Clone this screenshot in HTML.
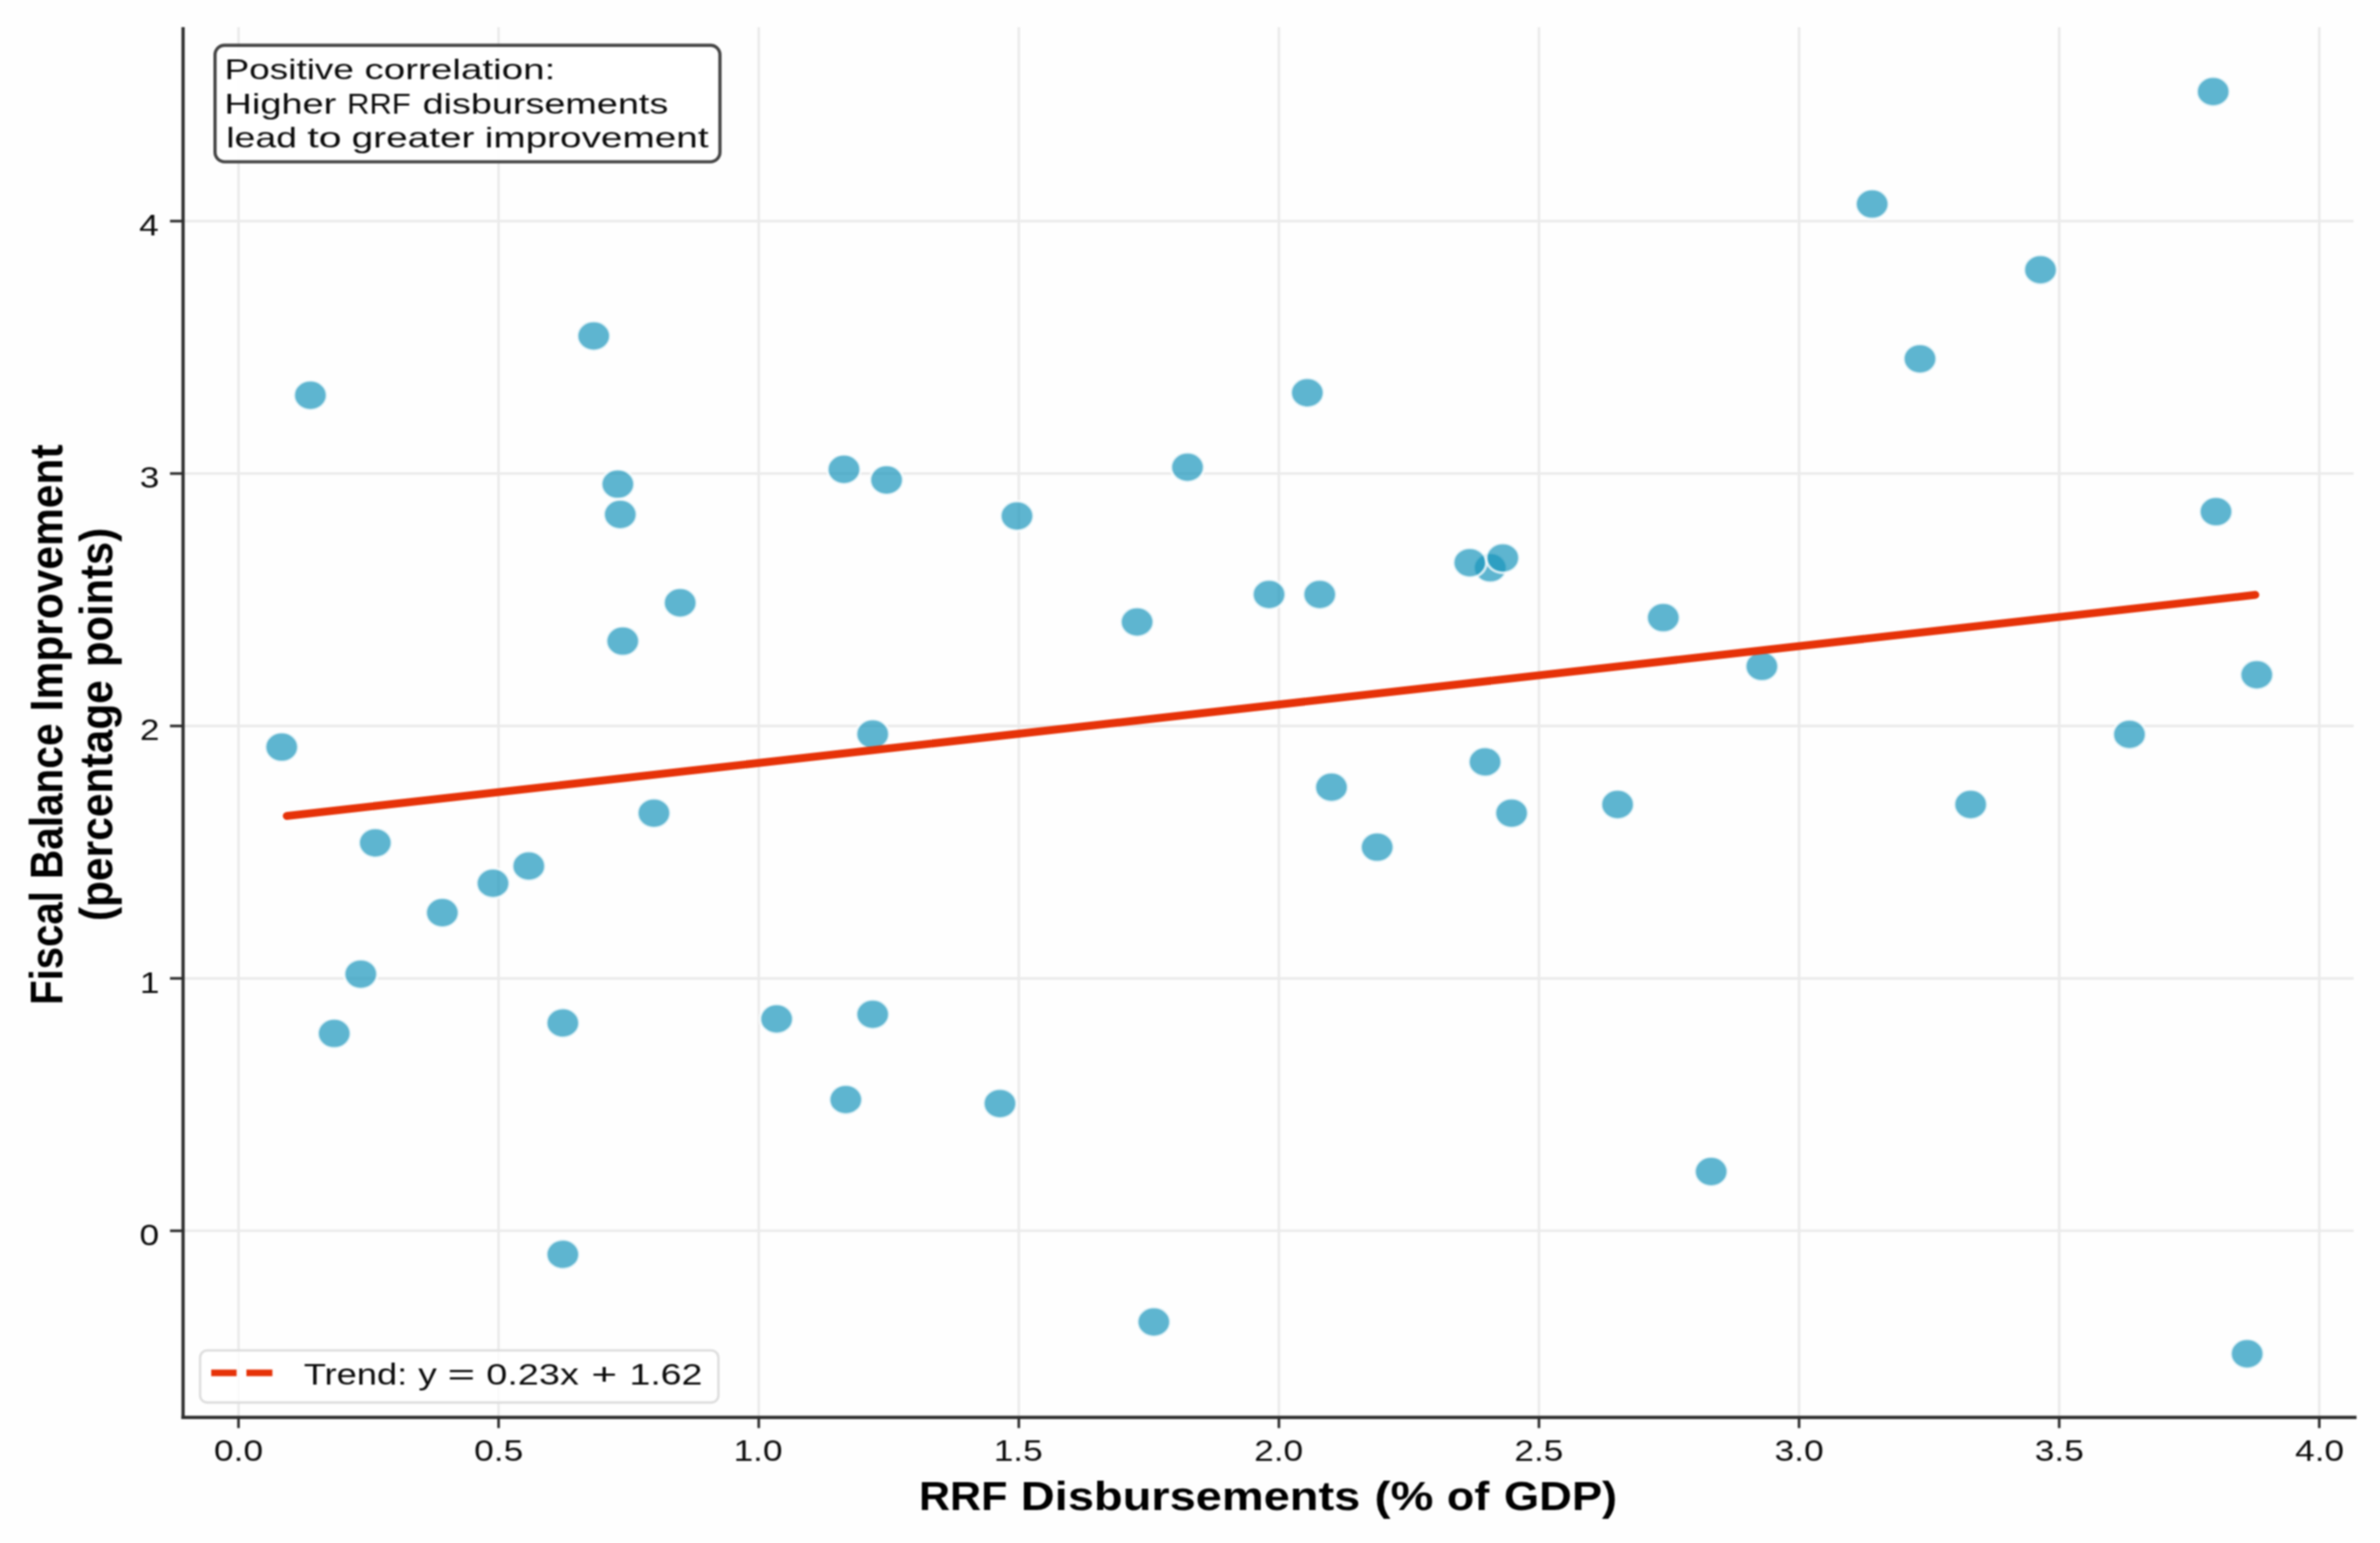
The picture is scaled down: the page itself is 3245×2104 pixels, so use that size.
<!DOCTYPE html>
<html><head><meta charset="utf-8"><title>RRF Disbursements vs Fiscal Balance Improvement</title>
<style>
html,body{margin:0;padding:0;background:#fefefe;}
body{width:3245px;height:2104px;overflow:hidden;}
svg{display:block;font-family:"Liberation Sans",sans-serif;}
</style></head>
<body>
<svg width="3245" height="2104" viewBox="0 0 3245 2104">
<defs><filter id="soft" x="-30" y="-30" width="3305" height="2164" filterUnits="userSpaceOnUse" color-interpolation-filters="sRGB"><feGaussianBlur stdDeviation="0.95"/></filter></defs>
<g filter="url(#soft)">
<rect x="-30" y="-30" width="3305" height="2164" fill="#fefefe"/>
<g stroke="#ebebeb" stroke-width="3.6"><line x1="325.2" y1="37.0" x2="325.2" y2="1932.8"/><line x1="679.8" y1="37.0" x2="679.8" y2="1932.8"/><line x1="1034.5" y1="37.0" x2="1034.5" y2="1932.8"/><line x1="1389.1" y1="37.0" x2="1389.1" y2="1932.8"/><line x1="1743.7" y1="37.0" x2="1743.7" y2="1932.8"/><line x1="2098.3" y1="37.0" x2="2098.3" y2="1932.8"/><line x1="2452.9" y1="37.0" x2="2452.9" y2="1932.8"/><line x1="2807.6" y1="37.0" x2="2807.6" y2="1932.8"/><line x1="3162.2" y1="37.0" x2="3162.2" y2="1932.8"/><line x1="249.6" y1="1678.3" x2="3209.0" y2="1678.3"/><line x1="249.6" y1="1334.1" x2="3209.0" y2="1334.1"/><line x1="249.6" y1="989.9" x2="3209.0" y2="989.9"/><line x1="249.6" y1="645.7" x2="3209.0" y2="645.7"/><line x1="249.6" y1="301.5" x2="3209.0" y2="301.5"/></g>
<g fill="#1a95bc" fill-opacity="0.7" stroke="#ffffff" stroke-opacity="0.75" stroke-width="3.8"><ellipse cx="423.2" cy="539.0" rx="22.6" ry="20.3"/><ellipse cx="809.5" cy="458.1" rx="22.6" ry="20.3"/><ellipse cx="842.4" cy="660.2" rx="22.6" ry="20.3"/><ellipse cx="1150.7" cy="640.0" rx="22.6" ry="20.3"/><ellipse cx="1208.8" cy="654.5" rx="22.6" ry="20.3"/><ellipse cx="1782.5" cy="535.6" rx="22.6" ry="20.3"/><ellipse cx="1619.1" cy="637.1" rx="22.6" ry="20.3"/><ellipse cx="3017.6" cy="124.9" rx="22.6" ry="20.3"/><ellipse cx="2552.6" cy="278.2" rx="22.6" ry="20.3"/><ellipse cx="2782.1" cy="367.9" rx="22.6" ry="20.3"/><ellipse cx="2617.8" cy="489.3" rx="22.6" ry="20.3"/><ellipse cx="845.7" cy="701.5" rx="22.6" ry="20.3"/><ellipse cx="927.4" cy="822.0" rx="22.6" ry="20.3"/><ellipse cx="849.1" cy="874.2" rx="22.6" ry="20.3"/><ellipse cx="384.1" cy="1018.7" rx="22.6" ry="20.3"/><ellipse cx="1189.9" cy="1001.0" rx="22.6" ry="20.3"/><ellipse cx="891.6" cy="1108.8" rx="22.6" ry="20.3"/><ellipse cx="511.7" cy="1149.3" rx="22.6" ry="20.3"/><ellipse cx="721.0" cy="1180.9" rx="22.6" ry="20.3"/><ellipse cx="672.2" cy="1204.4" rx="22.6" ry="20.3"/><ellipse cx="603.1" cy="1244.5" rx="22.6" ry="20.3"/><ellipse cx="1386.6" cy="703.6" rx="22.6" ry="20.3"/><ellipse cx="1550.4" cy="848.1" rx="22.6" ry="20.3"/><ellipse cx="1730.3" cy="810.6" rx="22.6" ry="20.3"/><ellipse cx="1799.4" cy="810.6" rx="22.6" ry="20.3"/><ellipse cx="2031.9" cy="774.2" rx="22.6" ry="20.3"/><ellipse cx="2004.0" cy="767.3" rx="22.6" ry="20.3"/><ellipse cx="2049.0" cy="760.8" rx="22.6" ry="20.3"/><ellipse cx="2024.8" cy="1038.9" rx="22.6" ry="20.3"/><ellipse cx="1815.4" cy="1073.4" rx="22.6" ry="20.3"/><ellipse cx="2061.0" cy="1108.8" rx="22.6" ry="20.3"/><ellipse cx="1877.7" cy="1155.2" rx="22.6" ry="20.3"/><ellipse cx="2205.5" cy="1097.0" rx="22.6" ry="20.3"/><ellipse cx="2267.8" cy="842.2" rx="22.6" ry="20.3"/><ellipse cx="2402.2" cy="908.7" rx="22.6" ry="20.3"/><ellipse cx="3021.4" cy="697.7" rx="22.6" ry="20.3"/><ellipse cx="3077.0" cy="920.1" rx="22.6" ry="20.3"/><ellipse cx="2903.4" cy="1001.4" rx="22.6" ry="20.3"/><ellipse cx="2686.9" cy="1097.0" rx="22.6" ry="20.3"/><ellipse cx="491.9" cy="1328.3" rx="22.6" ry="20.3"/><ellipse cx="455.7" cy="1409.2" rx="22.6" ry="20.3"/><ellipse cx="767.4" cy="1394.9" rx="22.6" ry="20.3"/><ellipse cx="1058.9" cy="1389.4" rx="22.6" ry="20.3"/><ellipse cx="1189.9" cy="1383.1" rx="22.6" ry="20.3"/><ellipse cx="1153.2" cy="1499.4" rx="22.6" ry="20.3"/><ellipse cx="767.4" cy="1710.4" rx="22.6" ry="20.3"/><ellipse cx="1363.4" cy="1504.8" rx="22.6" ry="20.3"/><ellipse cx="1573.2" cy="1802.6" rx="22.6" ry="20.3"/><ellipse cx="2333.1" cy="1597.5" rx="22.6" ry="20.3"/><ellipse cx="3063.9" cy="1846.0" rx="22.6" ry="20.3"/></g>
<line x1="391" y1="1112.6" x2="3075" y2="811.2" stroke="#e63208" stroke-width="10.8" stroke-linecap="round"/>
<g stroke="#2d2d2d" stroke-width="4.4"><line x1="249.6" y1="37.0" x2="249.6" y2="1935.0"/><line x1="247.4" y1="1932.8" x2="3213.0" y2="1932.8"/></g>
<g stroke="#2d2d2d" stroke-width="3.6"><line x1="325.2" y1="1932.8" x2="325.2" y2="1947.3"/><line x1="679.8" y1="1932.8" x2="679.8" y2="1947.3"/><line x1="1034.5" y1="1932.8" x2="1034.5" y2="1947.3"/><line x1="1389.1" y1="1932.8" x2="1389.1" y2="1947.3"/><line x1="1743.7" y1="1932.8" x2="1743.7" y2="1947.3"/><line x1="2098.3" y1="1932.8" x2="2098.3" y2="1947.3"/><line x1="2452.9" y1="1932.8" x2="2452.9" y2="1947.3"/><line x1="2807.6" y1="1932.8" x2="2807.6" y2="1947.3"/><line x1="3162.2" y1="1932.8" x2="3162.2" y2="1947.3"/><line x1="231.8" y1="1678.3" x2="249.6" y2="1678.3"/><line x1="231.8" y1="1334.1" x2="249.6" y2="1334.1"/><line x1="231.8" y1="989.9" x2="249.6" y2="989.9"/><line x1="231.8" y1="645.7" x2="249.6" y2="645.7"/><line x1="231.8" y1="301.5" x2="249.6" y2="301.5"/></g>
<rect x="293.2" y="61.7" width="688.4" height="158.9" rx="13" ry="13" fill="#ffffff" fill-opacity="0.92" stroke="#444444" stroke-width="4.4"/>
<rect x="272.8" y="1841.3" width="706.7" height="71.2" rx="10" ry="10" fill="#ffffff" fill-opacity="0.8" stroke="#dedede" stroke-width="3.3"/>
<g stroke="#e63208" stroke-width="9"><line x1="288" y1="1872" x2="322.6" y2="1872"/><line x1="336" y1="1872" x2="371.4" y2="1872"/></g>
<g fill="#0a0a0a">
<text font-size="39.7" transform="translate(306.17,108.10) scale(1.2690,1)">Positive</text>
<text font-size="39.7" transform="translate(496.90,108.10) scale(1.3251,1)">correlation:</text>
<text font-size="39.7" transform="translate(306.06,155.00) scale(1.3032,1)">Higher</text>
<text font-size="39.7" transform="translate(473.22,155.00) scale(1.0651,1)">RRF</text>
<text font-size="39.7" transform="translate(576.14,155.00) scale(1.2979,1)">disbursements</text>
<text font-size="39.7" transform="translate(308.48,201.40) scale(1.2848,1)">lead</text>
<text font-size="39.7" transform="translate(418.96,201.40) scale(1.4119,1)">to</text>
<text font-size="39.7" transform="translate(479.49,201.40) scale(1.3308,1)">greater</text>
<text font-size="39.7" transform="translate(660.97,201.40) scale(1.3300,1)">improvement</text>
<text font-size="41.3" transform="translate(414.21,1887.60) scale(1.1969,1)">Trend:</text>
<text font-size="41.3" transform="translate(570.20,1887.60) scale(1.2252,1)">y</text>
<text font-size="41.3" transform="translate(610.31,1887.60) scale(1.5566,1)">=</text>
<text font-size="41.3" transform="translate(663.10,1887.60) scale(1.2483,1)">0.23x</text>
<text font-size="41.3" transform="translate(806.19,1887.60) scale(1.4577,1)">+</text>
<text font-size="41.3" transform="translate(858.16,1887.60) scale(1.2404,1)">1.62</text>
<text font-weight="bold" fill="#000000" font-size="54.8" transform="translate(1252.99,2059.00) scale(1.0710,1)">RRF</text>
<text font-weight="bold" fill="#000000" font-size="54.8" transform="translate(1391.83,2059.00) scale(1.1694,1)">Disbursements</text>
<text font-weight="bold" fill="#000000" font-size="54.8" transform="translate(1874.05,2059.00) scale(1.1981,1)">(&#37;</text>
<text font-weight="bold" fill="#000000" font-size="54.8" transform="translate(1972.86,2059.00) scale(1.1139,1)">of</text>
<text font-weight="bold" fill="#000000" font-size="54.8" transform="translate(2050.43,2059.00) scale(1.1280,1)">GDP)</text>
<text font-size="41.2" transform="translate(291.87,1992.00) scale(1.1650,1)">0.0</text>
<text font-size="41.2" transform="translate(646.61,1992.00) scale(1.1650,1)">0.5</text>
<text font-size="41.2" transform="translate(1000.16,1992.00) scale(1.1650,1)">1.0</text>
<text font-size="41.2" transform="translate(1354.90,1992.00) scale(1.1650,1)">1.5</text>
<text font-size="41.2" transform="translate(1710.01,1992.00) scale(1.1650,1)">2.0</text>
<text font-size="41.2" transform="translate(2064.75,1992.00) scale(1.1650,1)">2.5</text>
<text font-size="41.2" transform="translate(2419.62,1992.00) scale(1.1650,1)">3.0</text>
<text font-size="41.2" transform="translate(2774.36,1992.00) scale(1.1650,1)">3.5</text>
<text font-size="41.2" transform="translate(3129.23,1992.00) scale(1.1650,1)">4.0</text>
<text font-size="41.2" transform="translate(190.24,1697.70) scale(1.1650,1)">0</text>
<text font-size="41.2" transform="translate(190.72,1353.50) scale(1.1650,1)">1</text>
<text font-size="41.2" transform="translate(190.72,1009.30) scale(1.1650,1)">2</text>
<text font-size="41.2" transform="translate(190.48,665.10) scale(1.1650,1)">3</text>
<text font-size="41.2" transform="translate(189.76,320.90) scale(1.1650,1)">4</text>
<text font-weight="bold" fill="#000000" font-size="54.8" transform="translate(84.60,1370.36) rotate(-90) scale(1.0008,1.135)">Fiscal</text>
<text font-weight="bold" fill="#000000" font-size="54.8" transform="translate(84.60,1198.80) rotate(-90) scale(1.0097,1.135)">Balance</text>
<text font-weight="bold" fill="#000000" font-size="54.8" transform="translate(84.60,969.97) rotate(-90) scale(1.0579,1.135)">Improvement</text>
<text font-weight="bold" fill="#000000" font-size="54.8" transform="translate(153.30,1256.11) rotate(-90) scale(1.0582,1.135)">(percentage</text>
<text font-weight="bold" fill="#000000" font-size="54.8" transform="translate(153.30,909.60) rotate(-90) scale(1.0389,1.135)">points)</text>
</g>
</g>
</svg>
</body></html>
